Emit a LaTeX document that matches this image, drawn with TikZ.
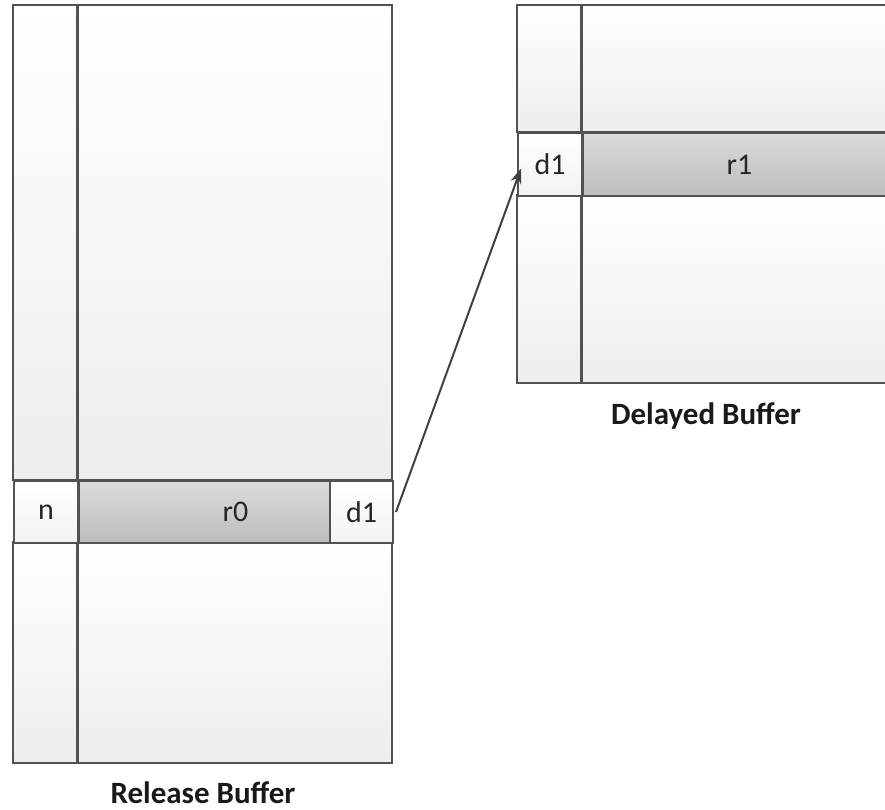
\documentclass[tikz,border=0pt]{standalone}
\usepackage{fontspec}
\setmainfont{Carlito}
\usetikzlibrary{arrows.meta}
\begin{document}
\begin{tikzpicture}[x=1pt,y=-1pt,
  colbox/.style={draw=black!68, line width=2pt, top color=white, bottom color=black!7},
  bandbox/.style={draw=black!68, line width=2pt, top color=black!14, bottom color=black!26},
  cellbox/.style={draw=black!68, line width=2pt, top color=white, bottom color=black!5},
  txt/.style={font=\fontsize{30}{34}\selectfont, text=black!85},
  captxt/.style={font=\bfseries\fontsize{31}{35}\selectfont, text=black!90, anchor=base, inner sep=0pt},
  conn/.style={draw=black!75, line width=2pt, -{Stealth[length=15pt,width=11pt]}}]
\useasboundingbox (0,0) rectangle (885,809);
\begin{scope}
\clip (0,0) rectangle (885,809);
% Release buffer
\path[colbox] (13,5) rectangle (77,480);
\path[colbox] (78,5) rectangle (392,480);
\path[colbox] (13,542) rectangle (77,763);
\path[colbox] (78,542) rectangle (392,763);
\node[cellbox, minimum width=64pt, minimum height=62pt, anchor=north west, inner sep=0pt, txt] (n) at (13,480) {n};
\node[bandbox, minimum width=251pt, minimum height=62pt, anchor=north west, inner sep=0pt, txt] (r0) at (78,480) {\hspace*{62pt}r0};
\node[cellbox, minimum width=63pt, minimum height=62pt, anchor=north west, inner sep=0pt, txt] (d1a) at (329,480) {d1};
% Delayed buffer
\path[colbox] (517,5) rectangle (581,132);
\path[colbox] (582,5) rectangle (895,132);
\path[colbox] (517,195) rectangle (581,383);
\path[colbox] (582,195) rectangle (895,383);
\node[cellbox, minimum width=64pt, minimum height=63pt, anchor=north west, inner sep=0pt, txt] (d1b) at (517,132) {d1};
\node[bandbox, minimum width=313pt, minimum height=63pt, anchor=north west, inner sep=0pt, txt] (r1) at (582,132) {r1};
\end{scope}
\node[captxt] (relcap) at (203,803) {Release Buffer};
\node[captxt] (delcap) at (706,424) {Delayed Buffer};
\draw[conn] ([xshift=2pt]d1a.east) -- ([xshift=4pt,yshift=-4pt]d1b.west);
\end{tikzpicture}
\end{document}
